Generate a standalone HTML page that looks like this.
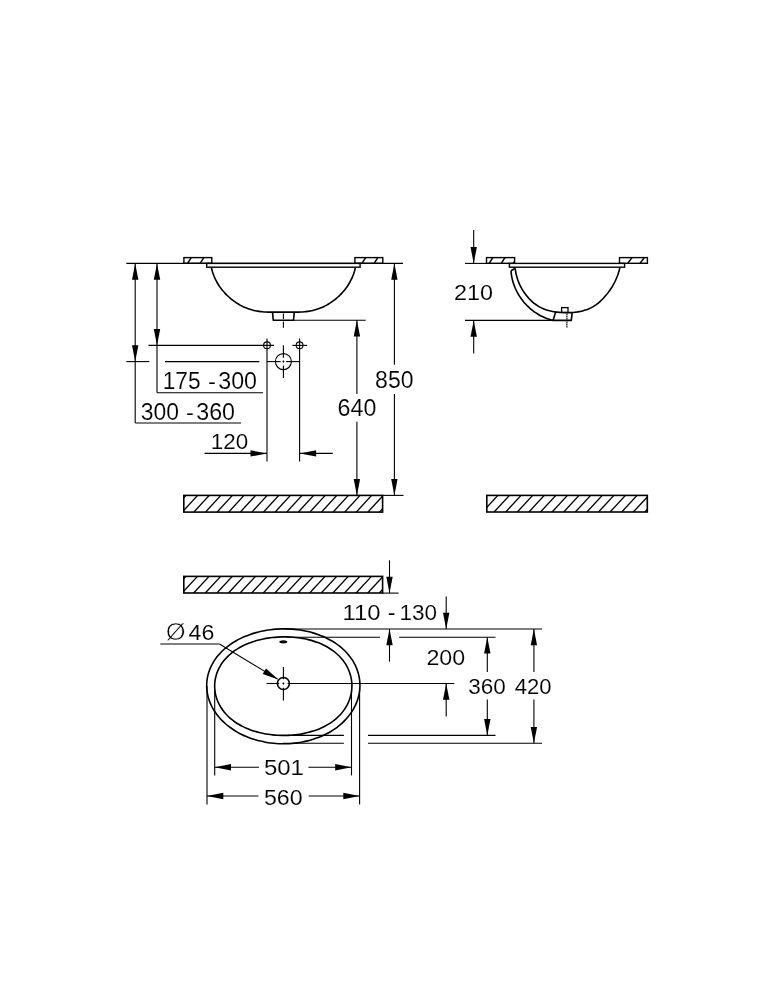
<!DOCTYPE html>
<html><head><meta charset="utf-8"><title>Dimension drawing</title>
<style>
html,body{margin:0;padding:0;background:#fff;}
svg{display:block;filter:grayscale(1)}
.d{stroke:#000;fill:none}
.d text{font-family:"Liberation Sans",sans-serif;fill:#000;stroke:#fff;stroke-width:0.12px}
.d .f{fill:#000;stroke:none}
</style></head><body>
<svg width="775" height="1000" viewBox="0 0 775 1000">
<rect x="0" y="0" width="775" height="1000" fill="#fff" stroke="none"/>
<g class="d">
<line x1="126.3" y1="263.4" x2="403" y2="263.4" stroke-width="1.1" />
<clipPath id="c1"><rect x="183.9" y="257.6" width="27.900000000000006" height="5.699999999999989"/></clipPath>
<g clip-path="url(#c1)">
<line x1="166.0" y1="257.6" x2="162.4" y2="263.3" stroke-width="1.5" />
<line x1="178.6" y1="257.6" x2="175.0" y2="263.3" stroke-width="1.5" />
<line x1="191.2" y1="257.6" x2="187.6" y2="263.3" stroke-width="1.5" />
<line x1="203.8" y1="257.6" x2="200.2" y2="263.3" stroke-width="1.5" />
<line x1="216.4" y1="257.6" x2="212.8" y2="263.3" stroke-width="1.5" />
</g>
<rect x="183.9" y="257.6" width="27.900000000000006" height="5.699999999999989" fill="none" stroke-width="1.4"/>
<clipPath id="c2"><rect x="354.9" y="257.6" width="27.900000000000034" height="5.699999999999989"/></clipPath>
<g clip-path="url(#c2)">
<line x1="341.3" y1="257.6" x2="337.5" y2="263.3" stroke-width="1.5" />
<line x1="353.5" y1="257.6" x2="349.7" y2="263.3" stroke-width="1.5" />
<line x1="365.7" y1="257.6" x2="361.9" y2="263.3" stroke-width="1.5" />
<line x1="377.9" y1="257.6" x2="374.1" y2="263.3" stroke-width="1.5" />
<line x1="390.1" y1="257.6" x2="386.3" y2="263.3" stroke-width="1.5" />
</g>
<rect x="354.9" y="257.6" width="27.900000000000034" height="5.699999999999989" fill="none" stroke-width="1.4"/>
<rect x="206.7" y="263.4" width="153.40000000000003" height="3.8" fill="#fff" stroke-width="1.4"/>
<path d="M211.40,267.50 C211.46,267.78 211.64,268.63 211.78,269.19 C211.92,269.75 212.06,270.31 212.22,270.87 C212.38,271.43 212.54,271.97 212.72,272.52 C212.90,273.07 213.08,273.62 213.27,274.16 C213.46,274.70 213.66,275.24 213.87,275.77 C214.08,276.30 214.30,276.83 214.53,277.36 C214.76,277.89 214.99,278.41 215.24,278.93 C215.49,279.45 215.75,279.96 216.01,280.47 C216.27,280.98 216.54,281.49 216.82,281.99 C217.10,282.49 217.39,282.99 217.68,283.48 C217.97,283.97 218.27,284.47 218.58,284.95 C218.89,285.43 219.21,285.91 219.53,286.38 C219.85,286.85 220.19,287.33 220.53,287.79 C220.87,288.25 221.21,288.72 221.56,289.17 C221.91,289.62 222.27,290.08 222.64,290.52 C223.01,290.96 223.38,291.40 223.76,291.83 C224.14,292.26 224.53,292.70 224.92,293.12 C225.31,293.54 225.71,293.96 226.11,294.37 C226.51,294.78 226.93,295.18 227.34,295.58 C227.75,295.98 228.17,296.37 228.60,296.76 C229.03,297.15 229.46,297.53 229.90,297.91 C230.34,298.29 230.77,298.66 231.22,299.02 C231.67,299.38 232.12,299.73 232.58,300.08 C233.04,300.43 233.49,300.77 233.96,301.11 C234.43,301.45 234.91,301.79 235.38,302.11 C235.85,302.43 236.33,302.74 236.81,303.05 C237.29,303.36 237.79,303.66 238.28,303.96 C238.77,304.26 239.26,304.55 239.76,304.83 C240.26,305.11 240.76,305.38 241.27,305.65 C241.78,305.92 242.29,306.18 242.80,306.43 C243.31,306.68 243.83,306.93 244.35,307.16 C244.87,307.40 245.38,307.62 245.91,307.84 C246.44,308.06 246.97,308.27 247.50,308.47 C248.03,308.67 248.56,308.87 249.10,309.05 C249.64,309.23 250.18,309.40 250.72,309.57 C251.26,309.74 251.81,309.89 252.36,310.04 C252.91,310.19 253.46,310.32 254.01,310.45 C254.56,310.58 255.12,310.70 255.68,310.81 C256.24,310.92 256.79,311.02 257.35,311.12 C257.91,311.22 258.48,311.30 259.04,311.38 C259.61,311.46 260.17,311.53 260.74,311.60 C261.31,311.67 261.87,311.74 262.44,311.79 C263.01,311.85 263.59,311.89 264.16,311.93 C264.73,311.97 265.31,312.01 265.88,312.04 C266.45,312.07 267.03,312.11 267.60,312.13 C268.18,312.15 268.75,312.15 269.33,312.15 C269.90,312.15 270.48,312.15 271.05,312.15 C271.62,312.15 272.20,312.15 272.78,312.15 C273.36,312.15 273.93,312.15 274.51,312.15 C275.09,312.15 275.66,312.15 276.24,312.15 C276.82,312.15 277.40,312.15 277.98,312.15 C278.56,312.15 279.13,312.15 279.71,312.15 C280.29,312.15 280.86,312.14 281.44,312.13 C282.02,312.12 282.81,312.11 283.17,312.11 C283.54,312.11 283.26,312.11 283.63,312.11 C283.99,312.11 284.78,312.12 285.36,312.13 C285.94,312.14 286.51,312.15 287.09,312.15 C287.67,312.15 288.24,312.15 288.82,312.15 C289.40,312.15 289.98,312.15 290.56,312.15 C291.14,312.15 291.71,312.15 292.29,312.15 C292.87,312.15 293.44,312.15 294.02,312.15 C294.60,312.15 295.17,312.15 295.75,312.15 C296.32,312.15 296.89,312.15 297.47,312.15 C298.04,312.15 298.62,312.15 299.20,312.13 C299.77,312.11 300.35,312.07 300.92,312.04 C301.49,312.01 302.07,311.97 302.64,311.93 C303.21,311.89 303.79,311.85 304.36,311.79 C304.93,311.74 305.49,311.67 306.06,311.60 C306.63,311.53 307.19,311.46 307.76,311.38 C308.32,311.30 308.89,311.22 309.45,311.12 C310.01,311.02 310.56,310.92 311.12,310.81 C311.68,310.70 312.24,310.58 312.79,310.45 C313.34,310.32 313.89,310.19 314.44,310.04 C314.99,309.89 315.54,309.74 316.08,309.57 C316.62,309.40 317.16,309.23 317.70,309.05 C318.24,308.87 318.77,308.67 319.30,308.47 C319.83,308.27 320.37,308.06 320.89,307.84 C321.41,307.62 321.93,307.40 322.45,307.16 C322.97,306.93 323.49,306.68 324.00,306.43 C324.51,306.18 325.02,305.92 325.53,305.65 C326.04,305.38 326.54,305.11 327.04,304.83 C327.54,304.55 328.03,304.26 328.52,303.96 C329.01,303.66 329.51,303.36 329.99,303.05 C330.47,302.74 330.94,302.43 331.42,302.11 C331.89,301.79 332.37,301.45 332.84,301.11 C333.31,300.77 333.76,300.43 334.22,300.08 C334.68,299.73 335.13,299.38 335.58,299.02 C336.03,298.66 336.46,298.29 336.90,297.91 C337.34,297.53 337.77,297.15 338.20,296.76 C338.63,296.37 339.04,295.98 339.46,295.58 C339.87,295.18 340.29,294.78 340.69,294.37 C341.09,293.96 341.49,293.54 341.88,293.12 C342.27,292.70 342.66,292.26 343.04,291.83 C343.42,291.40 343.79,290.96 344.16,290.52 C344.53,290.08 344.89,289.62 345.24,289.17 C345.59,288.72 345.93,288.25 346.27,287.79 C346.61,287.33 346.94,286.85 347.27,286.38 C347.59,285.91 347.91,285.43 348.22,284.95 C348.53,284.47 348.83,283.97 349.12,283.48 C349.41,282.99 349.70,282.49 349.98,281.99 C350.26,281.49 350.53,280.98 350.79,280.47 C351.05,279.96 351.31,279.45 351.56,278.93 C351.81,278.41 352.04,277.89 352.27,277.36 C352.50,276.83 352.72,276.30 352.93,275.77 C353.14,275.24 353.34,274.70 353.53,274.16 C353.72,273.62 353.90,273.07 354.08,272.52 C354.25,271.97 354.42,271.43 354.58,270.87 C354.74,270.31 354.88,269.75 355.02,269.19 C355.16,268.63 355.34,267.78 355.40,267.50" fill="none" stroke-width="1.6"/>
<path d="M272.5,312.2 L273.3,320.3 L293.5,320.3 L294.3,312.2" stroke-width="1.6" stroke-linejoin="round"/>
<line x1="283.4" y1="313.5" x2="283.4" y2="319" stroke-width="1.1" />
<line x1="283.4" y1="321.7" x2="283.4" y2="327.8" stroke-width="1.1" />
<line x1="294" y1="320.3" x2="365.7" y2="320.3" stroke-width="1.1" />
<line x1="135.2" y1="263.4" x2="135.2" y2="423" stroke-width="1.1" />
<polygon class="f" points="135.20,263.40 138.40,279.70 132.00,279.70"/>
<polygon class="f" points="135.20,361.50 132.00,345.20 138.40,345.20"/>
<line x1="135.2" y1="423" x2="241" y2="423" stroke-width="1.1" />
<line x1="157" y1="263.4" x2="157" y2="392.7" stroke-width="1.1" />
<polygon class="f" points="157.00,263.40 160.20,279.70 153.80,279.70"/>
<polygon class="f" points="157.00,345.40 153.80,329.10 160.20,329.10"/>
<line x1="157" y1="392.7" x2="263" y2="392.7" stroke-width="1.1" />
<line x1="148.5" y1="345.4" x2="274" y2="345.4" stroke-width="1.1" />
<line x1="126.3" y1="361.6" x2="149.3" y2="361.6" stroke-width="1.1" />
<line x1="165" y1="361.6" x2="259.4" y2="361.6" stroke-width="1.1" />
<circle cx="267.0" cy="345.3" r="3.4" stroke-width="1.1"/>
<line x1="267.0" y1="338.4" x2="267.0" y2="461.4" stroke-width="1.1" />
<circle cx="299.6" cy="345.3" r="3.4" stroke-width="1.1"/>
<line x1="299.6" y1="338.4" x2="299.6" y2="461.4" stroke-width="1.1" />
<line x1="292.3" y1="345.4" x2="307.1" y2="345.4" stroke-width="1.1" />
<circle cx="283.4" cy="361.6" r="8.0" stroke-width="1.1"/>
<line x1="267.0" y1="361.6" x2="280.7" y2="361.6" stroke-width="1.1" />
<line x1="282.6" y1="361.6" x2="284.2" y2="361.6" stroke-width="1.1" />
<line x1="286.1" y1="361.6" x2="299.6" y2="361.6" stroke-width="1.1" />
<line x1="283.4" y1="345.2" x2="283.4" y2="357.8" stroke-width="1.1" />
<line x1="283.4" y1="360.6" x2="283.4" y2="362.6" stroke-width="1.1" />
<line x1="283.4" y1="365.5" x2="283.4" y2="378.1" stroke-width="1.1" />
<line x1="204.5" y1="453.4" x2="266.8" y2="453.4" stroke-width="1.1" />
<polygon class="f" points="266.80,453.40 250.50,456.60 250.50,450.20"/>
<line x1="299.8" y1="453.4" x2="332.8" y2="453.4" stroke-width="1.1" />
<polygon class="f" points="299.80,453.40 316.10,450.20 316.10,456.60"/>
<text y="389.07" font-size="23.16"><tspan x="162.73" textLength="37.83" lengthAdjust="spacingAndGlyphs">175</tspan><tspan x="201.38" textLength="21.04" lengthAdjust="spacingAndGlyphs"> - </tspan><tspan x="218.22" textLength="38.80" lengthAdjust="spacingAndGlyphs">300</tspan></text>
<text y="419.67" font-size="23.16"><tspan x="140.73" textLength="38.17" lengthAdjust="spacingAndGlyphs">300</tspan><tspan x="179.38" textLength="21.04" lengthAdjust="spacingAndGlyphs"> - </tspan><tspan x="196.22" textLength="38.80" lengthAdjust="spacingAndGlyphs">360</tspan></text>
<text y="449.37" font-size="22.74"><tspan x="210.75" textLength="37.43" lengthAdjust="spacingAndGlyphs">120</tspan></text>
<line x1="356.9" y1="320.3" x2="356.9" y2="394" stroke-width="1.1" />
<line x1="356.9" y1="421.7" x2="356.9" y2="495.4" stroke-width="1.1" />
<polygon class="f" points="356.90,320.30 360.10,336.60 353.70,336.60"/>
<polygon class="f" points="356.90,495.40 353.70,479.10 360.10,479.10"/>
<text y="416.17" font-size="23.16"><tspan x="337.62" textLength="38.70" lengthAdjust="spacingAndGlyphs">640</tspan></text>
<line x1="394.4" y1="263.4" x2="394.4" y2="364.7" stroke-width="1.1" />
<line x1="394.4" y1="394" x2="394.4" y2="495.4" stroke-width="1.1" />
<polygon class="f" points="394.40,263.40 397.60,279.70 391.20,279.70"/>
<polygon class="f" points="394.40,495.40 391.20,479.10 397.60,479.10"/>
<text y="387.57" font-size="23.02"><tspan x="375.11" textLength="38.40" lengthAdjust="spacingAndGlyphs">850</tspan></text>
<clipPath id="c3"><rect x="183.8" y="495.4" width="198.8" height="16.700000000000045"/></clipPath>
<g clip-path="url(#c3)">
<line x1="186.05" y1="495.4" x2="170.65" y2="512.1" stroke-width="1.35" />
<line x1="197.65" y1="495.4" x2="182.25" y2="512.1" stroke-width="1.35" />
<line x1="209.25" y1="495.4" x2="193.85" y2="512.1" stroke-width="1.35" />
<line x1="220.85" y1="495.4" x2="205.45" y2="512.1" stroke-width="1.35" />
<line x1="232.45" y1="495.4" x2="217.05" y2="512.1" stroke-width="1.35" />
<line x1="244.05" y1="495.4" x2="228.65" y2="512.1" stroke-width="1.35" />
<line x1="255.65" y1="495.4" x2="240.25" y2="512.1" stroke-width="1.35" />
<line x1="267.25" y1="495.4" x2="251.85" y2="512.1" stroke-width="1.35" />
<line x1="278.85" y1="495.4" x2="263.45" y2="512.1" stroke-width="1.35" />
<line x1="290.45" y1="495.4" x2="275.05" y2="512.1" stroke-width="1.35" />
<line x1="302.05" y1="495.4" x2="286.65" y2="512.1" stroke-width="1.35" />
<line x1="313.65" y1="495.4" x2="298.25" y2="512.1" stroke-width="1.35" />
<line x1="325.25" y1="495.4" x2="309.85" y2="512.1" stroke-width="1.35" />
<line x1="336.85" y1="495.4" x2="321.45" y2="512.1" stroke-width="1.35" />
<line x1="348.45" y1="495.4" x2="333.05" y2="512.1" stroke-width="1.35" />
<line x1="360.05" y1="495.4" x2="344.65" y2="512.1" stroke-width="1.35" />
<line x1="371.65" y1="495.4" x2="356.25" y2="512.1" stroke-width="1.35" />
<line x1="383.25" y1="495.4" x2="367.85" y2="512.1" stroke-width="1.35" />
<line x1="394.85" y1="495.4" x2="379.45" y2="512.1" stroke-width="1.35" />
<line x1="406.45" y1="495.4" x2="391.05" y2="512.1" stroke-width="1.35" />
</g>
<rect x="183.8" y="495.4" width="198.8" height="16.700000000000045" fill="none" stroke-width="1.6"/>
<line x1="382.6" y1="495.4" x2="403.5" y2="495.4" stroke-width="1.1" />
<line x1="465" y1="263.4" x2="487" y2="263.4" stroke-width="1.1" />
<clipPath id="c4"><rect x="486.5" y="257.6" width="28.100000000000023" height="5.699999999999989"/></clipPath>
<g clip-path="url(#c4)">
<line x1="468.6" y1="257.6" x2="465.0" y2="263.3" stroke-width="1.5" />
<line x1="480.7" y1="257.6" x2="477.1" y2="263.3" stroke-width="1.5" />
<line x1="492.8" y1="257.6" x2="489.2" y2="263.3" stroke-width="1.5" />
<line x1="504.9" y1="257.6" x2="501.3" y2="263.3" stroke-width="1.5" />
<line x1="517.0" y1="257.6" x2="513.4" y2="263.3" stroke-width="1.5" />
<line x1="529.1" y1="257.6" x2="525.5" y2="263.3" stroke-width="1.5" />
</g>
<rect x="486.5" y="257.6" width="28.100000000000023" height="5.699999999999989" fill="none" stroke-width="1.4"/>
<clipPath id="c5"><rect x="619.5" y="257.6" width="27.899999999999977" height="5.699999999999989"/></clipPath>
<g clip-path="url(#c5)">
<line x1="607.4" y1="257.6" x2="603.2" y2="263.3" stroke-width="1.5" />
<line x1="619.7" y1="257.6" x2="615.5" y2="263.3" stroke-width="1.5" />
<line x1="632.0" y1="257.6" x2="627.8" y2="263.3" stroke-width="1.5" />
<line x1="644.3" y1="257.6" x2="640.1" y2="263.3" stroke-width="1.5" />
<line x1="656.6" y1="257.6" x2="652.4" y2="263.3" stroke-width="1.5" />
</g>
<rect x="619.5" y="257.6" width="27.899999999999977" height="5.699999999999989" fill="none" stroke-width="1.4"/>
<rect x="509.4" y="263.4" width="115.20000000000005" height="3.8" fill="#fff" stroke-width="1.4"/>
<path d="M555.6,312.3 L553.0,320.4 L571.3,320.4 L572.2,312.3" fill="#fff" stroke-width="1.6" stroke-linejoin="round"/>
<path d="M511.00,270.80 C511.04,271.20 511.12,272.40 511.21,273.19 C511.30,273.98 511.41,274.77 511.54,275.56 C511.67,276.35 511.81,277.13 511.98,277.91 C512.14,278.69 512.32,279.47 512.52,280.24 C512.72,281.01 512.94,281.78 513.18,282.54 C513.41,283.30 513.66,284.05 513.93,284.80 C514.20,285.55 514.48,286.30 514.79,287.04 C515.09,287.77 515.40,288.50 515.74,289.23 C516.07,289.95 516.42,290.67 516.78,291.38 C517.15,292.09 517.52,292.79 517.92,293.49 C518.31,294.18 518.72,294.87 519.14,295.55 C519.56,296.22 520.00,296.89 520.45,297.55 C520.90,298.21 521.37,298.86 521.84,299.50 C522.32,300.14 522.81,300.78 523.32,301.40 C523.82,302.02 524.34,302.63 524.87,303.23 C525.39,303.82 525.94,304.41 526.49,304.99 C527.04,305.57 527.61,306.13 528.18,306.69 C528.76,307.24 529.35,307.78 529.94,308.31 C530.54,308.84 531.15,309.35 531.77,309.86 C532.39,310.36 533.02,310.85 533.66,311.32 C534.30,311.80 534.95,312.26 535.61,312.71 C536.27,313.16 536.94,313.59 537.61,314.01 C538.29,314.43 538.98,314.83 539.67,315.22 C540.37,315.60 541.07,315.98 541.78,316.33 C542.50,316.69 543.22,317.03 543.94,317.35 C544.67,317.68 545.41,317.98 546.15,318.27 C546.89,318.56 547.64,318.84 548.39,319.09 C549.15,319.35 549.91,319.58 550.68,319.80 C551.45,320.02 552.61,320.30 553.00,320.40" stroke-width="1.6"/>
<path d="M511,270.8 L515.2,268.3" stroke-width="1.6"/>
<path d="M515.20,268.30 C515.25,268.66 515.36,269.72 515.47,270.43 C515.57,271.15 515.69,271.86 515.83,272.57 C515.97,273.28 516.12,273.99 516.29,274.70 C516.46,275.41 516.64,276.11 516.84,276.82 C517.04,277.52 517.26,278.22 517.49,278.92 C517.71,279.62 517.96,280.32 518.22,281.01 C518.48,281.70 518.75,282.38 519.04,283.07 C519.33,283.75 519.63,284.42 519.95,285.10 C520.26,285.77 520.59,286.43 520.93,287.09 C521.28,287.75 521.63,288.40 522.00,289.04 C522.38,289.68 522.76,290.32 523.15,290.95 C523.55,291.58 523.96,292.19 524.38,292.80 C524.80,293.41 525.24,294.01 525.68,294.60 C526.13,295.19 526.59,295.77 527.06,296.34 C527.53,296.91 528.01,297.47 528.50,298.01 C529.00,298.55 529.50,299.09 530.02,299.61 C530.54,300.13 531.06,300.64 531.60,301.13 C532.14,301.62 532.69,302.10 533.25,302.57 C533.81,303.03 534.38,303.48 534.96,303.92 C535.54,304.35 536.13,304.77 536.73,305.18 C537.33,305.58 537.94,305.97 538.55,306.33 C539.17,306.70 539.80,307.06 540.44,307.39 C541.08,307.73 541.72,308.04 542.38,308.34 C543.03,308.64 543.70,308.91 544.37,309.17 C545.04,309.43 545.72,309.67 546.41,309.90 C547.09,310.12 547.79,310.33 548.49,310.52 C549.19,310.72 549.89,310.89 550.60,311.05 C551.32,311.22 552.03,311.36 552.75,311.50 C553.47,311.63 554.20,311.75 554.92,311.86 C555.65,311.96 556.38,312.06 557.11,312.14 C557.85,312.23 558.58,312.30 559.32,312.36 C560.05,312.43 560.79,312.48 561.53,312.53 C562.27,312.57 563.01,312.61 563.74,312.63 C564.48,312.66 565.22,312.67 565.96,312.68 C566.70,312.69 567.44,312.68 568.17,312.67 C568.91,312.66 569.65,312.64 570.38,312.60 C571.12,312.57 571.85,312.52 572.59,312.47 C573.32,312.41 574.05,312.35 574.78,312.27 C575.51,312.19 576.24,312.11 576.96,312.00 C577.68,311.90 578.41,311.79 579.12,311.66 C579.84,311.53 580.55,311.39 581.26,311.23 C581.97,311.07 582.67,310.90 583.37,310.71 C584.07,310.53 584.76,310.32 585.44,310.10 C586.13,309.88 586.81,309.65 587.48,309.39 C588.15,309.14 588.82,308.86 589.47,308.57 C590.13,308.28 590.77,307.97 591.41,307.64 C592.05,307.31 592.68,306.96 593.30,306.59 C593.92,306.22 594.53,305.83 595.13,305.42 C595.73,305.02 596.32,304.59 596.90,304.15 C597.48,303.71 598.05,303.25 598.61,302.78 C599.18,302.31 599.73,301.82 600.27,301.32 C600.82,300.82 601.35,300.31 601.88,299.79 C602.40,299.27 602.92,298.73 603.42,298.19 C603.93,297.65 604.43,297.10 604.91,296.54 C605.40,295.98 605.88,295.42 606.35,294.85 C606.82,294.28 607.28,293.70 607.73,293.12 C608.18,292.53 608.63,291.94 609.06,291.35 C609.49,290.75 609.91,290.15 610.32,289.54 C610.73,288.93 611.14,288.32 611.53,287.70 C611.92,287.08 612.30,286.46 612.67,285.83 C613.04,285.20 613.40,284.56 613.75,283.92 C614.10,283.28 614.44,282.63 614.76,281.98 C615.09,281.33 615.41,280.67 615.71,280.01 C616.02,279.35 616.31,278.68 616.59,278.01 C616.87,277.34 617.14,276.66 617.40,275.98 C617.66,275.30 617.90,274.61 618.14,273.92 C618.37,273.23 618.59,272.54 618.80,271.84 C619.01,271.14 619.20,270.44 619.39,269.73 C619.57,269.03 619.82,267.96 619.90,267.60" stroke-width="1.6"/>
<rect x="561.6" y="307.6" width="6.4" height="4.7" fill="#fff" stroke-width="1.3"/>
<line x1="566.9" y1="313.6" x2="566.9" y2="319.4" stroke-width="1.15" stroke-dasharray="1.7 0.5"/>
<line x1="566.9" y1="321.6" x2="566.9" y2="327.6" stroke-width="1.15" stroke-dasharray="1.7 0.5"/>
<line x1="465" y1="320.4" x2="553" y2="320.4" stroke-width="1.1" />
<line x1="473.7" y1="230" x2="473.7" y2="263.4" stroke-width="1.1" />
<polygon class="f" points="473.70,263.40 470.50,247.10 476.90,247.10"/>
<line x1="473.7" y1="320.4" x2="473.7" y2="353.5" stroke-width="1.1" />
<polygon class="f" points="473.70,320.40 476.90,336.70 470.50,336.70"/>
<text y="300.37" font-size="22.88"><tspan x="453.93" textLength="38.99" lengthAdjust="spacingAndGlyphs">210</tspan></text>
<clipPath id="c6"><rect x="486.8" y="495.4" width="160.49999999999994" height="16.600000000000023"/></clipPath>
<g clip-path="url(#c6)">
<line x1="486.3" y1="495.4" x2="470.9" y2="512.0" stroke-width="1.35" />
<line x1="497.9" y1="495.4" x2="482.5" y2="512.0" stroke-width="1.35" />
<line x1="509.5" y1="495.4" x2="494.1" y2="512.0" stroke-width="1.35" />
<line x1="521.1" y1="495.4" x2="505.7" y2="512.0" stroke-width="1.35" />
<line x1="532.7" y1="495.4" x2="517.3" y2="512.0" stroke-width="1.35" />
<line x1="544.3" y1="495.4" x2="528.9" y2="512.0" stroke-width="1.35" />
<line x1="555.9" y1="495.4" x2="540.5" y2="512.0" stroke-width="1.35" />
<line x1="567.5" y1="495.4" x2="552.1" y2="512.0" stroke-width="1.35" />
<line x1="579.1" y1="495.4" x2="563.7" y2="512.0" stroke-width="1.35" />
<line x1="590.7" y1="495.4" x2="575.3" y2="512.0" stroke-width="1.35" />
<line x1="602.3" y1="495.4" x2="586.9" y2="512.0" stroke-width="1.35" />
<line x1="613.9" y1="495.4" x2="598.5" y2="512.0" stroke-width="1.35" />
<line x1="625.5" y1="495.4" x2="610.1" y2="512.0" stroke-width="1.35" />
<line x1="637.1" y1="495.4" x2="621.7" y2="512.0" stroke-width="1.35" />
<line x1="648.7" y1="495.4" x2="633.3" y2="512.0" stroke-width="1.35" />
<line x1="660.3" y1="495.4" x2="644.9" y2="512.0" stroke-width="1.35" />
<line x1="671.9" y1="495.4" x2="656.5" y2="512.0" stroke-width="1.35" />
</g>
<rect x="486.8" y="495.4" width="160.49999999999994" height="16.600000000000023" fill="none" stroke-width="1.6"/>
<clipPath id="c7"><rect x="183.8" y="576.4" width="198.8" height="16.600000000000023"/></clipPath>
<g clip-path="url(#c7)">
<line x1="185.9" y1="576.4" x2="170.5" y2="593.0" stroke-width="1.35" />
<line x1="197.5" y1="576.4" x2="182.1" y2="593.0" stroke-width="1.35" />
<line x1="209.1" y1="576.4" x2="193.7" y2="593.0" stroke-width="1.35" />
<line x1="220.7" y1="576.4" x2="205.3" y2="593.0" stroke-width="1.35" />
<line x1="232.3" y1="576.4" x2="216.9" y2="593.0" stroke-width="1.35" />
<line x1="243.9" y1="576.4" x2="228.5" y2="593.0" stroke-width="1.35" />
<line x1="255.5" y1="576.4" x2="240.1" y2="593.0" stroke-width="1.35" />
<line x1="267.1" y1="576.4" x2="251.7" y2="593.0" stroke-width="1.35" />
<line x1="278.7" y1="576.4" x2="263.3" y2="593.0" stroke-width="1.35" />
<line x1="290.3" y1="576.4" x2="274.9" y2="593.0" stroke-width="1.35" />
<line x1="301.9" y1="576.4" x2="286.5" y2="593.0" stroke-width="1.35" />
<line x1="313.5" y1="576.4" x2="298.1" y2="593.0" stroke-width="1.35" />
<line x1="325.1" y1="576.4" x2="309.7" y2="593.0" stroke-width="1.35" />
<line x1="336.7" y1="576.4" x2="321.3" y2="593.0" stroke-width="1.35" />
<line x1="348.3" y1="576.4" x2="332.9" y2="593.0" stroke-width="1.35" />
<line x1="359.9" y1="576.4" x2="344.5" y2="593.0" stroke-width="1.35" />
<line x1="371.5" y1="576.4" x2="356.1" y2="593.0" stroke-width="1.35" />
<line x1="383.1" y1="576.4" x2="367.7" y2="593.0" stroke-width="1.35" />
<line x1="394.7" y1="576.4" x2="379.3" y2="593.0" stroke-width="1.35" />
<line x1="406.3" y1="576.4" x2="390.9" y2="593.0" stroke-width="1.35" />
</g>
<rect x="183.8" y="576.4" width="198.8" height="16.600000000000023" fill="none" stroke-width="1.6"/>
<line x1="382.6" y1="593.1" x2="398.6" y2="593.1" stroke-width="1.1" />
<line x1="389.5" y1="560.3" x2="389.5" y2="593.1" stroke-width="1.1" />
<polygon class="f" points="389.50,593.10 386.30,576.80 392.70,576.80"/>
<line x1="389.5" y1="629" x2="389.5" y2="661.6" stroke-width="1.1" />
<polygon class="f" points="389.50,629.00 392.70,645.30 386.30,645.30"/>
<text y="619.67" font-size="22.60"><tspan x="342.60" textLength="38.04" lengthAdjust="spacingAndGlyphs">110</tspan><tspan x="381.31" textLength="20.68" lengthAdjust="spacingAndGlyphs"> - </tspan><tspan x="399.45" textLength="37.54" lengthAdjust="spacingAndGlyphs">130</tspan></text>
<line x1="446.2" y1="596.4" x2="446.2" y2="629" stroke-width="1.1" />
<polygon class="f" points="446.20,629.00 443.00,612.70 449.40,612.70"/>
<line x1="446.2" y1="683.4" x2="446.2" y2="716.6" stroke-width="1.1" />
<polygon class="f" points="446.20,683.40 449.40,699.70 443.00,699.70"/>
<text y="664.58" font-size="22.32"><tspan x="426.44" textLength="38.78" lengthAdjust="spacingAndGlyphs">200</tspan></text>
<line x1="285" y1="629" x2="542" y2="629" stroke-width="1.1" />
<line x1="287" y1="637.2" x2="380" y2="637.2" stroke-width="1.1" />
<line x1="399.2" y1="637.2" x2="495.5" y2="637.2" stroke-width="1.1" />
<line x1="266.5" y1="683.5" x2="279.2" y2="683.5" stroke-width="1.1" />
<line x1="282.5" y1="683.5" x2="284.3" y2="683.5" stroke-width="1.1" />
<line x1="287.6" y1="683.5" x2="454.3" y2="683.5" stroke-width="1.1" />
<line x1="283.4" y1="667" x2="283.4" y2="679.3" stroke-width="1.1" />
<line x1="283.4" y1="682.6" x2="283.4" y2="684.4" stroke-width="1.1" />
<line x1="283.4" y1="687.7" x2="283.4" y2="700.4" stroke-width="1.1" />
<circle cx="283.4" cy="683.5" r="6.0" stroke-width="1.6"/>
<line x1="288" y1="735.4" x2="343.9" y2="735.4" stroke-width="1.1" />
<line x1="368" y1="735.4" x2="495.5" y2="735.4" stroke-width="1.1" />
<line x1="283" y1="743.3" x2="343.9" y2="743.3" stroke-width="1.1" />
<line x1="368" y1="743.3" x2="542" y2="743.3" stroke-width="1.1" />
<line x1="487.3" y1="637.2" x2="487.3" y2="672" stroke-width="1.1" />
<line x1="487.3" y1="699.6" x2="487.3" y2="735.4" stroke-width="1.1" />
<polygon class="f" points="487.30,637.20 490.50,653.50 484.10,653.50"/>
<polygon class="f" points="487.30,735.40 484.10,719.10 490.50,719.10"/>
<text y="694.38" font-size="22.46"><tspan x="468.24" textLength="37.54" lengthAdjust="spacingAndGlyphs">360</tspan></text>
<line x1="533.9" y1="629" x2="533.9" y2="672" stroke-width="1.1" />
<line x1="533.9" y1="699.6" x2="533.9" y2="743.3" stroke-width="1.1" />
<polygon class="f" points="533.90,629.00 537.10,645.30 530.70,645.30"/>
<polygon class="f" points="533.90,743.30 530.70,727.00 537.10,727.00"/>
<text y="694.38" font-size="22.46"><tspan x="514.69" textLength="36.78" lengthAdjust="spacingAndGlyphs">420</tspan></text>
<path d="M359.91,686.50 C359.87,687.82 359.78,689.15 359.63,690.47 C359.47,691.78 359.27,693.10 359.00,694.41 C358.73,695.71 358.41,697.01 358.03,698.30 C357.65,699.59 357.22,700.87 356.73,702.14 C356.24,703.41 355.69,704.67 355.09,705.91 C354.49,707.15 353.84,708.37 353.13,709.58 C352.42,710.79 351.65,711.98 350.84,713.15 C350.02,714.32 349.15,715.48 348.23,716.60 C347.32,717.73 346.34,718.84 345.32,719.91 C344.30,720.99 343.23,722.05 342.11,723.07 C340.99,724.09 339.82,725.09 338.61,726.05 C337.40,727.02 336.14,727.95 334.84,728.85 C333.54,729.75 332.20,730.61 330.81,731.44 C329.43,732.27 328.01,733.06 326.55,733.81 C325.09,734.57 323.60,735.28 322.07,735.96 C320.55,736.63 318.98,737.27 317.40,737.86 C315.81,738.45 314.19,739.00 312.55,739.51 C310.92,740.01 309.25,740.48 307.57,740.90 C305.88,741.31 304.18,741.69 302.46,742.02 C300.74,742.35 299.00,742.63 297.25,742.87 C295.51,743.11 293.74,743.30 291.98,743.45 C290.22,743.59 288.44,743.69 286.67,743.75 C284.89,743.80 283.11,743.81 281.33,743.77 C279.56,743.73 277.78,743.64 276.01,743.51 C274.24,743.38 272.48,743.20 270.72,742.98 C268.97,742.75 267.22,742.48 265.49,742.17 C263.77,741.85 262.05,741.49 260.35,741.09 C258.66,740.68 256.97,740.23 255.32,739.74 C253.67,739.25 252.03,738.71 250.42,738.13 C248.82,737.55 247.24,736.93 245.69,736.27 C244.14,735.61 242.62,734.90 241.13,734.16 C239.65,733.42 238.20,732.64 236.79,731.82 C235.38,731.00 234.00,730.15 232.67,729.26 C231.34,728.36 230.05,727.44 228.80,726.48 C227.56,725.52 226.35,724.53 225.20,723.51 C224.04,722.48 222.93,721.43 221.88,720.35 C220.82,719.27 219.81,718.16 218.85,717.03 C217.90,715.90 216.99,714.74 216.14,713.56 C215.29,712.38 214.50,711.18 213.75,709.96 C213.01,708.74 212.33,707.49 211.70,706.24 C211.07,704.98 210.50,703.70 209.99,702.42 C209.47,701.13 209.02,699.83 208.62,698.52 C208.23,697.21 207.89,695.88 207.62,694.55 C207.34,693.22 207.13,691.88 206.97,690.54 C206.82,689.20 206.73,687.85 206.70,686.50 C206.67,685.15 206.71,683.80 206.80,682.45 C206.90,681.10 207.06,679.75 207.28,678.41 C207.50,677.07 207.79,675.73 208.14,674.41 C208.49,673.08 208.90,671.76 209.38,670.45 C209.85,669.15 210.39,667.85 210.99,666.57 C211.59,665.29 212.25,664.03 212.98,662.78 C213.70,661.54 214.49,660.31 215.33,659.12 C216.17,657.92 217.08,656.74 218.03,655.59 C218.99,654.44 220.01,653.31 221.08,652.21 C222.15,651.12 223.27,650.05 224.45,649.02 C225.62,647.99 226.85,646.99 228.12,646.03 C229.39,645.06 230.71,644.13 232.07,643.24 C233.42,642.35 234.83,641.50 236.27,640.68 C237.71,639.87 239.19,639.09 240.70,638.36 C242.21,637.62 243.76,636.93 245.34,636.28 C246.91,635.62 248.52,635.01 250.15,634.45 C251.78,633.88 253.44,633.35 255.11,632.87 C256.78,632.39 258.48,631.95 260.20,631.55 C261.91,631.16 263.64,630.80 265.38,630.50 C267.12,630.19 268.88,629.92 270.65,629.70 C272.41,629.48 274.19,629.30 275.96,629.16 C277.74,629.03 279.53,628.94 281.32,628.89 C283.10,628.85 284.90,628.84 286.68,628.88 C288.47,628.93 290.26,629.01 292.04,629.14 C293.82,629.27 295.60,629.45 297.36,629.67 C299.13,629.89 300.89,630.15 302.63,630.46 C304.37,630.77 306.11,631.13 307.82,631.53 C309.53,631.92 311.23,632.37 312.90,632.86 C314.57,633.35 316.22,633.88 317.85,634.46 C319.47,635.03 321.07,635.65 322.63,636.32 C324.19,636.98 325.73,637.69 327.23,638.44 C328.72,639.18 330.18,639.97 331.60,640.80 C333.02,641.63 334.40,642.50 335.73,643.41 C337.07,644.31 338.36,645.26 339.59,646.24 C340.83,647.21 342.02,648.23 343.16,649.27 C344.30,650.31 345.38,651.39 346.41,652.49 C347.44,653.59 348.42,654.73 349.33,655.88 C350.25,657.04 351.11,658.22 351.91,659.42 C352.71,660.62 353.45,661.84 354.13,663.08 C354.81,664.32 355.43,665.58 356.00,666.85 C356.56,668.12 357.06,669.40 357.50,670.69 C357.94,671.99 358.32,673.29 358.64,674.60 C358.96,675.91 359.22,677.23 359.42,678.55 C359.62,679.87 359.76,681.20 359.84,682.52 C359.92,683.85 359.94,685.18 359.91,686.50Z" stroke-width="1.6"/>
<path d="M351.91,686.50 C351.89,687.68 351.82,688.87 351.69,690.05 C351.57,691.23 351.40,692.41 351.17,693.58 C350.94,694.75 350.66,695.92 350.33,697.07 C349.99,698.23 349.61,699.38 349.17,700.52 C348.73,701.65 348.24,702.78 347.70,703.89 C347.15,705.00 346.56,706.10 345.91,707.17 C345.26,708.25 344.56,709.31 343.80,710.35 C343.05,711.39 342.25,712.41 341.39,713.40 C340.54,714.39 339.63,715.36 338.68,716.30 C337.73,717.24 336.73,718.15 335.69,719.03 C334.65,719.91 333.56,720.76 332.43,721.57 C331.30,722.39 330.13,723.17 328.92,723.92 C327.72,724.67 326.47,725.38 325.20,726.05 C323.93,726.73 322.62,727.36 321.29,727.96 C319.96,728.56 318.60,729.13 317.22,729.65 C315.84,730.17 314.43,730.66 313.01,731.11 C311.59,731.56 310.15,731.97 308.70,732.35 C307.25,732.72 305.78,733.06 304.30,733.37 C302.83,733.67 301.34,733.94 299.85,734.17 C298.36,734.41 296.85,734.61 295.35,734.77 C293.85,734.94 292.33,735.08 290.82,735.18 C289.31,735.28 287.79,735.35 286.28,735.39 C284.76,735.43 283.24,735.43 281.72,735.41 C280.21,735.38 278.69,735.32 277.17,735.24 C275.65,735.15 274.14,735.02 272.63,734.87 C271.12,734.72 269.61,734.53 268.11,734.31 C266.61,734.08 265.11,733.83 263.62,733.54 C262.14,733.25 260.65,732.92 259.19,732.56 C257.72,732.20 256.26,731.80 254.83,731.36 C253.39,730.92 251.96,730.45 250.56,729.94 C249.16,729.43 247.77,728.88 246.42,728.29 C245.06,727.70 243.73,727.07 242.42,726.41 C241.12,725.75 239.85,725.04 238.61,724.31 C237.38,723.57 236.17,722.79 235.01,721.98 C233.85,721.17 232.72,720.33 231.64,719.45 C230.56,718.57 229.52,717.66 228.54,716.72 C227.55,715.78 226.60,714.81 225.71,713.82 C224.82,712.82 223.98,711.80 223.19,710.75 C222.40,709.71 221.66,708.63 220.98,707.54 C220.29,706.46 219.66,705.34 219.09,704.22 C218.52,703.09 218.00,701.95 217.53,700.79 C217.07,699.64 216.66,698.47 216.31,697.29 C215.96,696.11 215.66,694.92 215.42,693.73 C215.18,692.53 215.00,691.33 214.88,690.13 C214.75,688.92 214.68,687.71 214.67,686.50 C214.66,685.29 214.70,684.08 214.80,682.87 C214.90,681.66 215.06,680.46 215.28,679.26 C215.50,678.06 215.77,676.86 216.10,675.68 C216.43,674.49 216.82,673.31 217.26,672.15 C217.71,670.98 218.21,669.83 218.77,668.69 C219.33,667.56 219.95,666.44 220.62,665.34 C221.29,664.24 222.02,663.15 222.80,662.10 C223.58,661.04 224.42,660.00 225.31,658.99 C226.19,657.99 227.13,657.00 228.12,656.05 C229.11,655.10 230.15,654.18 231.23,653.29 C232.31,652.40 233.44,651.54 234.60,650.72 C235.77,649.90 236.98,649.11 238.22,648.36 C239.46,647.62 240.74,646.90 242.05,646.23 C243.35,645.55 244.70,644.91 246.06,644.32 C247.43,643.72 248.82,643.16 250.23,642.63 C251.64,642.11 253.08,641.62 254.52,641.18 C255.97,640.73 257.44,640.32 258.92,639.94 C260.40,639.57 261.89,639.23 263.39,638.92 C264.89,638.62 266.40,638.35 267.92,638.12 C269.43,637.88 270.96,637.68 272.48,637.51 C274.01,637.35 275.54,637.21 277.08,637.11 C278.61,637.01 280.15,636.94 281.69,636.90 C283.23,636.86 284.77,636.86 286.31,636.88 C287.85,636.91 289.39,636.97 290.93,637.07 C292.46,637.16 294.00,637.28 295.53,637.45 C297.06,637.61 298.59,637.80 300.11,638.03 C301.63,638.27 303.15,638.53 304.65,638.84 C306.15,639.14 307.65,639.48 309.12,639.86 C310.60,640.24 312.07,640.66 313.51,641.12 C314.96,641.57 316.39,642.07 317.79,642.60 C319.19,643.14 320.58,643.72 321.93,644.33 C323.28,644.94 324.60,645.60 325.89,646.29 C327.17,646.98 328.43,647.71 329.64,648.48 C330.86,649.25 332.04,650.05 333.17,650.89 C334.30,651.73 335.39,652.60 336.43,653.50 C337.47,654.41 338.47,655.34 339.41,656.31 C340.36,657.27 341.25,658.26 342.09,659.28 C342.93,660.29 343.72,661.33 344.45,662.39 C345.19,663.45 345.87,664.53 346.50,665.63 C347.12,666.73 347.69,667.85 348.21,668.97 C348.73,670.10 349.19,671.24 349.59,672.39 C350.00,673.54 350.35,674.71 350.65,675.87 C350.95,677.04 351.20,678.22 351.39,679.40 C351.58,680.58 351.72,681.76 351.81,682.94 C351.89,684.13 351.93,685.32 351.91,686.50Z" stroke-width="1.6"/>
<ellipse cx="283.3" cy="641.8" rx="4.0" ry="1.6" class="f"/>
<line x1="207" y1="686" x2="207" y2="804.5" stroke-width="1.1" />
<line x1="359.6" y1="688" x2="359.6" y2="804.5" stroke-width="1.1" />
<line x1="214.7" y1="690" x2="214.7" y2="775.4" stroke-width="1.1" />
<line x1="351.5" y1="690" x2="351.5" y2="775.4" stroke-width="1.1" />
<line x1="214.7" y1="767.3" x2="258.9" y2="767.3" stroke-width="1.1" />
<polygon class="f" points="214.70,767.30 231.00,764.10 231.00,770.50"/>
<line x1="308.4" y1="767.3" x2="351.5" y2="767.3" stroke-width="1.1" />
<polygon class="f" points="351.50,767.30 335.20,770.50 335.20,764.10"/>
<text y="775.37" font-size="22.60"><tspan x="263.94" textLength="40.03" lengthAdjust="spacingAndGlyphs">501</tspan></text>
<line x1="207" y1="796" x2="258.4" y2="796" stroke-width="1.1" />
<polygon class="f" points="207.00,796.00 223.30,792.80 223.30,799.20"/>
<line x1="308.7" y1="796" x2="359.6" y2="796" stroke-width="1.1" />
<polygon class="f" points="359.60,796.00 343.30,799.20 343.30,792.80"/>
<text y="804.57" font-size="22.60"><tspan x="263.97" textLength="38.64" lengthAdjust="spacingAndGlyphs">560</tspan></text>
<line x1="160.3" y1="644" x2="219.5" y2="644" stroke-width="1.1" />
<line x1="219.5" y1="644" x2="277.6" y2="679.1" stroke-width="1.1" />
<polygon class="f" points="278.30,679.60 262.69,673.91 266.00,668.43"/>
<text y="639.78" font-size="22.03"><tspan x="165.7" y="640.26" font-size="24.3" textLength="19.92" lengthAdjust="spacingAndGlyphs" style="stroke-width:0.7px">Ø</tspan><tspan x="182.13" textLength="32.19" lengthAdjust="spacingAndGlyphs"> 46</tspan></text>
</g>
</svg>
</body></html>
